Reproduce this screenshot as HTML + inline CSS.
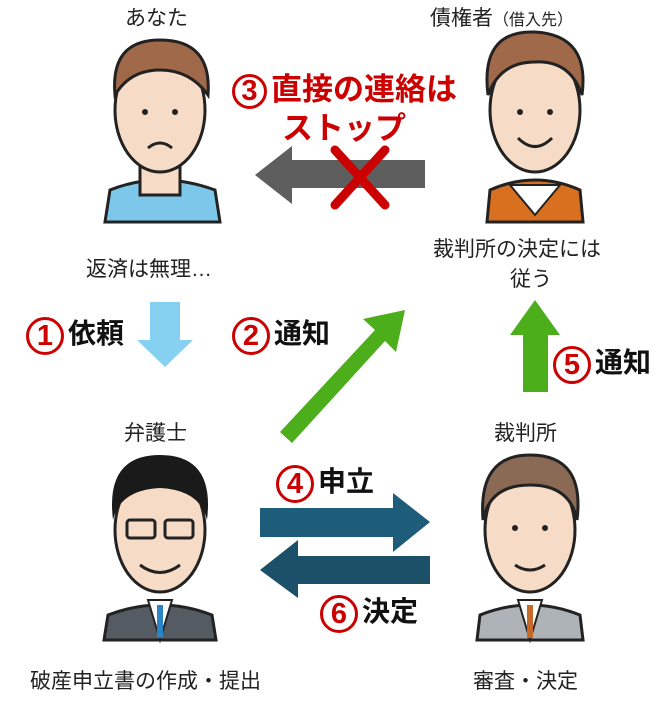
<!DOCTYPE html>
<html><head><meta charset="utf-8"><style>
body{margin:0;width:662px;height:715px;background:#fff;overflow:hidden;position:relative;font-family:"Liberation Sans","Noto Sans CJK JP",sans-serif;}
.t{position:absolute;font-size:21px;color:#222;white-space:nowrap;}
.b{position:absolute;font-weight:bold;font-size:28px;color:#111;white-space:nowrap;}
.r{color:#cc0000;}
.c{display:inline-block;width:32px;height:32px;border:3px solid #cc0000;border-radius:50%;color:#cc0000;text-align:center;line-height:32px;font-size:29px;font-weight:bold;margin-right:4px;vertical-align:middle;}
svg{position:absolute;left:0;top:0;}
</style></head><body>
<svg width="662" height="715">
<g>
<path d="M110 190 Q160 170 215 190 L220 222 L105 222 Z" fill="#7cc7ea" stroke="#222" stroke-width="3"/>
<rect x="140" y="165" width="40" height="30" fill="#f6dcc6" stroke="#222" stroke-width="3"/>
<ellipse cx="160" cy="110" rx="45" ry="62" fill="#f6dcc6" stroke="#222" stroke-width="3"/>
<path d="M115 95 Q110 40 160 40 Q212 40 208 95 Q190 70 160 70 Q130 70 115 95Z" fill="#a0694a" stroke="#222" stroke-width="3"/>
<circle cx="145" cy="112" r="3" fill="#222"/><circle cx="175" cy="112" r="3" fill="#222"/>
<path d="M148 148 Q160 138 172 148" fill="none" stroke="#222" stroke-width="3"/>
</g>
<g>
<path d="M490 190 Q535 170 580 190 L583 222 L487 222 Z" fill="#d9701f" stroke="#222" stroke-width="3"/>
<path d="M510 185 L535 215 L560 185 Z" fill="#fff" stroke="#222" stroke-width="2"/>
<ellipse cx="535" cy="110" rx="45" ry="62" fill="#f6dcc6" stroke="#222" stroke-width="3"/>
<path d="M488 95 Q480 30 535 32 Q590 35 582 95 Q570 60 535 62 Q500 62 488 95Z" fill="#a0694a" stroke="#222" stroke-width="3"/>
<circle cx="520" cy="112" r="3" fill="#222"/><circle cx="550" cy="112" r="3" fill="#222"/>
<path d="M518 138 Q535 155 552 138" fill="none" stroke="#222" stroke-width="3"/>
</g>
<g>
<path d="M108 615 Q160 595 212 615 L216 640 L104 640 Z" fill="#555b63" stroke="#222" stroke-width="3"/>
<path d="M148 600 L160 640 L172 600Z" fill="#fff" stroke="#222" stroke-width="2"/>
<rect x="157" y="605" width="6" height="33" fill="#2a85c4"/>
<ellipse cx="160" cy="530" rx="45" ry="62" fill="#f6dcc6" stroke="#222" stroke-width="3"/>
<path d="M113 520 Q105 455 160 455 Q215 455 207 520 Q200 490 160 488 Q120 490 113 520Z" fill="#1a1a1a"/>
<rect x="127" y="520" width="28" height="18" rx="3" fill="none" stroke="#222" stroke-width="3"/>
<rect x="165" y="520" width="28" height="18" rx="3" fill="none" stroke="#222" stroke-width="3"/>
<path d="M140 565 Q160 580 180 565" fill="none" stroke="#222" stroke-width="3"/>
</g>
<g>
<path d="M480 615 Q530 595 580 615 L583 640 L477 640 Z" fill="#aeb3b8" stroke="#222" stroke-width="3"/>
<path d="M518 600 L530 640 L542 600Z" fill="#fff" stroke="#222" stroke-width="2"/>
<rect x="527" y="605" width="6" height="33" fill="#c8692a"/>
<ellipse cx="530" cy="530" rx="45" ry="62" fill="#f6dcc6" stroke="#222" stroke-width="3"/>
<path d="M483 520 Q478 455 530 455 Q585 455 577 520 Q570 485 530 485 Q490 485 483 520Z" fill="#8a6a55" stroke="#222" stroke-width="3"/>
<circle cx="515" cy="528" r="3" fill="#222"/><circle cx="545" cy="528" r="3" fill="#222"/>
<path d="M515 565 Q530 575 545 565" fill="none" stroke="#222" stroke-width="3"/>
</g>
<path d="M425 160 L292 160 L292 146 L255 175 L292 204 L292 188 L425 188 Z" fill="#5e5e5e"/>
<path d="M335 150 L385 205 M385 150 L335 205" stroke="#cc0000" stroke-width="9" stroke-linecap="round"/>
<path d="M150 302 L180 302 L180 340 L193 340 L165 367 L137 340 L150 340 Z" fill="#86d0f1"/>
<path d="M280 432 L375 330 L363 319 L405 310 L396 352 L385 341 L292 443 Z" fill="#4cae1b"/>
<path d="M523 392 L548 392 L548 335 L560 335 L535 300 L510 335 L523 335 Z" fill="#4cae1b"/>
<path d="M260 508 L393 508 L393 493 L430 522 L393 552 L393 537 L260 537 Z" fill="#1e5d7a"/>
<path d="M430 556 L298 556 L298 540 L260 570 L298 598 L298 584 L430 584 Z" fill="#1b5068"/>
</svg>
<div class="t" style="left:125px;top:2px;">あなた</div>
<div class="t" style="left:430px;top:2px;">債権者<span style="font-size:16px">（借入先）</span></div>
<div class="b r" style="left:232px;top:64px;font-size:31px;"><span class="c" style="width:29px;height:29px;line-height:29px">3</span>直接の連絡は</div>
<div class="b r" style="left:282px;top:103px;font-size:31px;">ストップ</div>
<div class="t" style="left:86px;top:253px;">返済は無理…</div>
<div class="t" style="left:433px;top:233px;">裁判所の決定には</div>
<div class="t" style="left:510px;top:263px;">従う</div>
<div class="b" style="left:26px;top:312px;"><span class="c">1</span>依頼</div>
<div class="b" style="left:232px;top:312px;"><span class="c">2</span>通知</div>
<div class="b" style="left:553px;top:341px;"><span class="c">5</span>通知</div>
<div class="t" style="left:124px;top:417px;">弁護士</div>
<div class="t" style="left:494px;top:417px;">裁判所</div>
<div class="b" style="left:276px;top:460px;"><span class="c">4</span>申立</div>
<div class="b" style="left:320px;top:590px;"><span class="c">6</span>決定</div>
<div class="t" style="left:30px;top:665px;">破産申立書の作成・提出</div>
<div class="t" style="left:473px;top:665px;">審査・決定</div>
</body></html>
